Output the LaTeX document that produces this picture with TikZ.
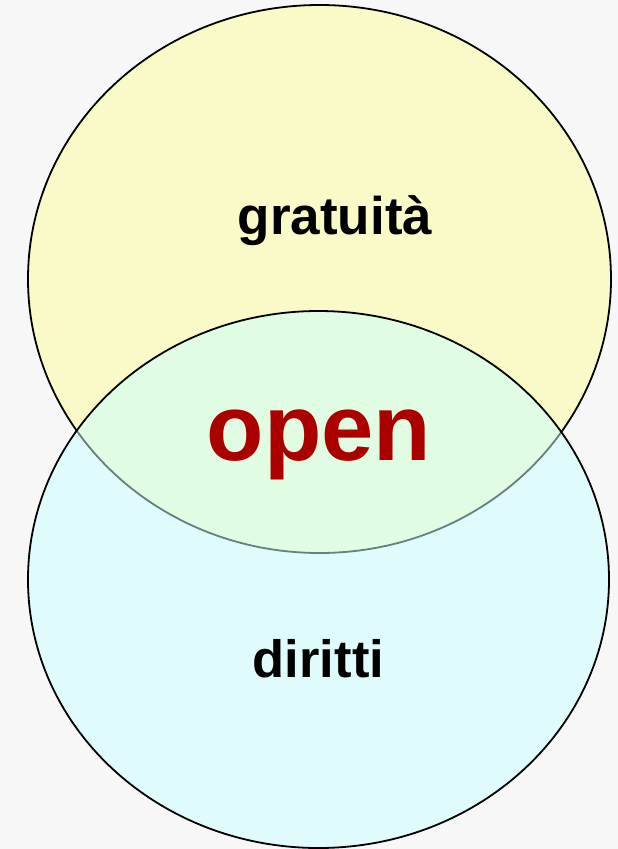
\documentclass[tikz,border=0pt]{standalone}
\usepackage{fontspec}
\setmainfont{Liberation Sans}
\definecolor{bgc}{RGB}{247,247,247}
\definecolor{yel}{RGB}{250,250,200}
\definecolor{cya}{RGB}{200,255,255}
\definecolor{opred}{RGB}{170,0,0}
\begin{document}
\begin{tikzpicture}[x=1pt,y=-1pt,
  circ/.style={draw=black,line width=1.8pt},
  lbl/.style={anchor=base,inner sep=0pt,font=\bfseries}]
\fill[bgc] (0,0) rectangle (618,849);
\useasboundingbox (0,0) rectangle (618,849);
\draw[circ,fill=yel] (319.5,279) ellipse [x radius=291.5,y radius=274];
\draw[circ,fill=cya,fill opacity=0.5] (318.5,579.5) ellipse [x radius=290.5,y radius=268.5];
\node[lbl,font=\bfseries\fontsize{53}{60}\selectfont] (g) at (335,234) {gratuità};
\node[lbl,font=\bfseries\fontsize{94}{100}\selectfont,text=opred] (o) at (319,460) {open};
\node[lbl,font=\bfseries\fontsize{52.5}{60}\selectfont] (d) at (318.5,677) {diritti};
\end{tikzpicture}
\end{document}
